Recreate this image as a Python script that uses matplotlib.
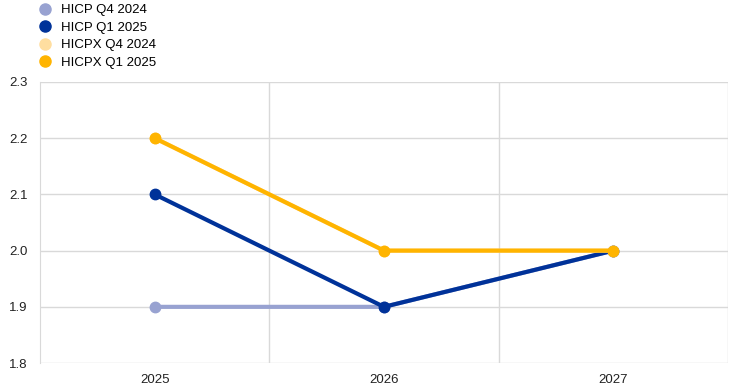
import matplotlib.pyplot as plt
from matplotlib.lines import Line2D

plt.rcParams['font.family'] = ['Liberation Sans', 'DejaVu Sans']

years = ['2025', '2026', '2027']
hicp_q4_2024 = [1.9, 1.9, 2.0]
hicp_q1_2025 = [2.1, 1.9, 2.0]
hicpx_q4_2024 = [2.2, 2.0, 2.0]
hicpx_q1_2025 = [2.2, 2.0, 2.0]

series = [
    ('HICP Q4 2024', hicp_q4_2024, '#98a2d1'),
    ('HICP Q1 2025', hicp_q1_2025, '#003299'),
    ('HICPX Q4 2024', hicpx_q4_2024, '#ffdea0'),
    ('HICPX Q1 2025', hicpx_q1_2025, '#ffb400'),
]

fig = plt.figure(figsize=(7.45, 3.9), dpi=100)
ax = fig.add_axes([0.0537, 0.069, 0.9235, 0.721])

x = range(len(years))
for name, vals, col in series:
    ax.plot(x, vals, color=col, lw=3, marker='o', ms=7.5, solid_capstyle='round', zorder=3)

ax.set_xlim(-0.5, 2.5)
ax.set_ylim(1.8, 2.3)
ax.set_xticks(list(x))
ax.set_xticklabels(years)
ax.set_yticks([1.8, 1.9, 2.0, 2.1, 2.2, 2.3])
ax.set_yticklabels(['1.8', '1.9', '2.0', '2.1', '2.2', '2.3'])
ax.set_xticks([0.5, 1.5, 2.5], minor=True)
ax.grid(True, axis='y', color='#d9d9d9', lw=1)
ax.grid(True, axis='x', which='minor', color='#d9d9d9', lw=1)
ax.tick_params(axis='both', which='both', length=0, labelsize=9.5, colors='#222222')
ax.tick_params(axis='y', pad=9)
ax.tick_params(axis='x', pad=8)
for s in ['top', 'right', 'bottom']:
    ax.spines[s].set_visible(False)
ax.spines['left'].set_color('#d9d9d9')

handles = [Line2D([], [], ls='none', marker='o', ms=8, color=col) for _, _, col in series]
fig.legend(handles, [s[0] for s in series], loc='upper left', bbox_to_anchor=(0.05, 0.99),
           frameon=False, fontsize=9.5, handletextpad=0.6, labelspacing=0.4,
           borderaxespad=0, borderpad=0, handlelength=1.2)

fig.savefig('out.png', dpi=100)
